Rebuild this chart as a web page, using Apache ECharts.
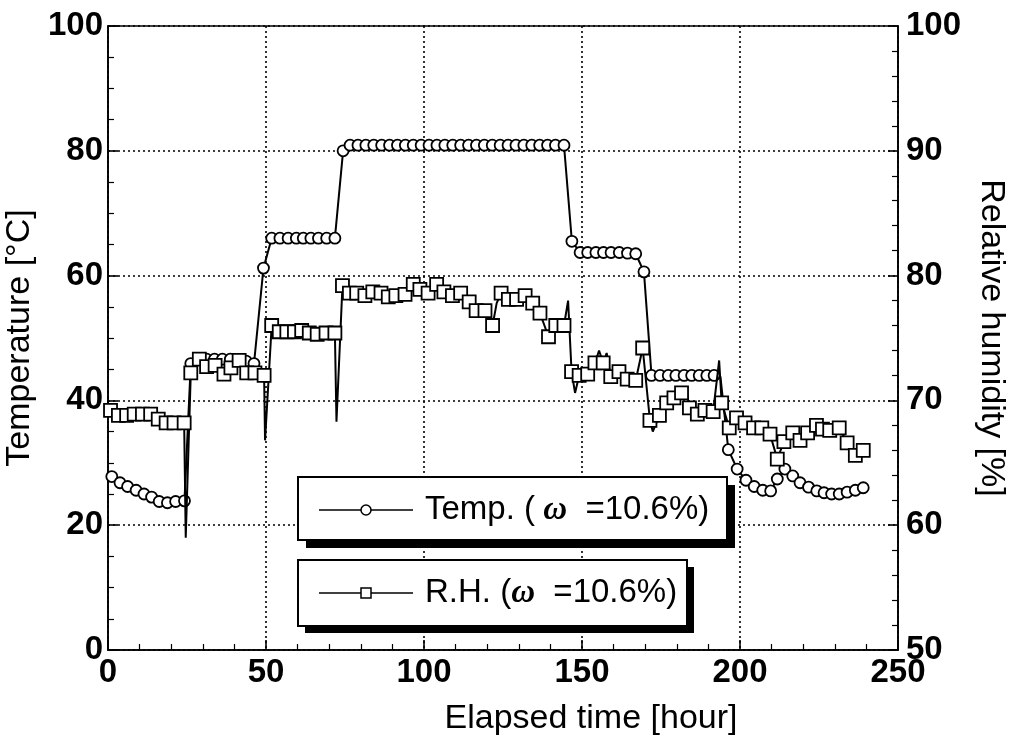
<!DOCTYPE html>
<html>
<head>
<meta charset="utf-8">
<script src="https://cdn.jsdelivr.net/npm/echarts@6/dist/echarts.min.js"></script>
<style>
html,body{margin:0;padding:0;background:#fff;}
#c{width:1015px;height:737px;}
</style>
</head>
<body>
<div id="c"></div>
<script>
// ---- Temperature (left axis, °C) : marker points ----
var tempTime = [1.2,3.8,6.2,8.9,11.4,13.8,16.2,18.8,21.4,24.2,
  26.2,28.7,31.2,33.7,36.2,38.7,41.2,43.7,46.2,
  49.2,
  51.8,54.4,57.0,59.6,61.8,64.2,66.6,69.2,71.8,
  74.4,
  76.6,79.1,81.6,84.1,86.6,89.1,91.6,94.1,96.6,99.1,101.6,104.1,106.6,109.1,111.6,114.1,116.6,119.1,121.6,124.1,126.6,129.1,131.6,134.1,136.6,139.1,141.6,144.3,
  146.8,
  149.4,151.8,154.4,156.8,159.2,161.8,164.4,167.0,
  169.6,
  172.0,174.7,177.3,179.7,182.3,184.7,187.1,189.5,191.8,
  196.3,199.1,201.9,204.5,207.2,209.7,211.8,214.2,216.7,219.0,221.7,224.3,226.6,229.0,231.4,233.9,236.5,239.0];
var tempValue = [27.8,26.8,26.2,25.6,25.0,24.5,23.8,23.6,23.8,23.9,
  45.9,46.6,46.6,46.6,46.6,46.6,46.5,46.3,45.9,
  61.2,
  66.0,66.0,66.0,66.0,66.0,66.0,66.0,66.0,66.0,
  80.0,
  80.9,80.9,80.9,80.9,80.9,80.9,80.9,80.9,80.9,80.9,80.9,80.9,80.9,80.9,80.9,80.9,80.9,80.9,80.9,80.9,80.9,80.9,80.9,80.9,80.9,80.9,80.9,80.9,
  65.5,
  63.7,63.7,63.7,63.7,63.7,63.7,63.6,63.5,
  60.6,
  44.0,44.0,44.0,44.0,44.0,44.0,44.0,44.0,44.0,
  32.1,29.0,27.2,26.2,25.6,25.5,27.4,29.0,27.9,26.8,26.1,25.5,25.2,25.0,25.0,25.3,25.6,26.0];
// line-only (unmarked) temperature readings
var tempLineTime = [193.8];
var tempLineValue = [43.8];

// ---- Relative humidity (right axis, %) : marker points ----
var rhTime = [0.8,3.3,5.9,8.3,10.9,13.5,15.9,18.4,20.9,24.1,
  26.2,28.9,31.2,33.9,36.7,38.9,41.5,43.9,46.5,49.4,
  51.8,54.2,56.6,59.0,61.3,63.7,66.2,69.0,71.8,
  74.2,76.4,78.7,81.3,83.8,86.4,88.7,91.1,94.0,96.6,98.7,101.3,104.0,106.3,109.0,111.6,114.3,116.5,119.3,121.7,124.4,126.7,129.3,132.0,134.4,136.7,139.4,141.7,144.3,
  146.7,149.1,151.8,154.1,156.7,159.1,161.7,164.3,167.0,169.2,
  171.5,174.5,176.8,179.1,181.5,184.0,186.5,188.9,191.5,194.2,
  196.6,198.9,201.6,204.3,206.9,209.5,211.8,213.9,216.7,219.0,221.4,224.2,226.1,228.4,231.4,233.9,236.5,239.0];
var rhValue = [69.2,68.8,68.8,68.9,68.9,68.9,68.5,68.2,68.2,68.2,
  72.2,73.3,72.7,72.8,72.1,72.6,73.2,72.2,72.2,72.0,
  76.0,75.5,75.5,75.5,75.6,75.4,75.3,75.4,75.4,
  79.2,78.6,78.6,78.4,78.7,78.6,78.3,78.4,78.5,79.3,78.9,78.6,79.3,78.7,78.4,78.6,77.9,77.2,77.2,76.0,78.6,78.1,78.1,78.4,77.8,77.0,75.1,76.0,76.0,
  72.3,72.0,72.1,73.0,73.0,71.9,72.3,71.7,71.6,74.2,
  68.4,68.8,69.8,70.2,70.6,69.4,68.9,69.2,69.1,69.8,
  67.8,68.6,68.2,67.8,67.8,67.3,65.3,66.7,67.4,66.8,67.4,68.0,67.7,67.6,67.8,66.6,65.6,66.0];
// line-only (unmarked) RH readings: short spikes between markers
var rhLineTime = [24.6,49.7,72.3,123.0,145.6,147.8,155.4,157.8,172.4,183.0,193.4];
var rhLineValue = [59.0,66.8,68.3,77.8,78.0,70.6,74.0,73.8,67.5,70.9,73.2];

// axis ticks
var xTicks = {min:0, max:250, interval:50};
var tTicks = {min:0, max:100, interval:20};
var hTicks = {min:50, max:100, interval:10};

function merge(t, v, lt, lv){
  var arr = [];
  for (var i=0;i<t.length;i++) arr.push({value:[t[i], v[i]]});
  for (var j=0;j<lt.length;j++) arr.push({value:[lt[j], lv[j]], symbol:'none'});
  arr.sort(function(a,b){return a.value[0]-b.value[0];});
  return arr;
}

var FONT = 'Liberation Sans, Arial, Helvetica, sans-serif';
var chart = echarts.init(document.getElementById('c'), null, {renderer:'canvas'});

var axisLine = {show:true, lineStyle:{color:'#000', width:1.6}};
var tick = {show:true, inside:true, length:10, lineStyle:{color:'#000', width:1.6}};
var dotted = {show:true, lineStyle:{color:'#000', width:1.6, type:[2,3]}};
var tickLabel = {color:'#000', fontSize:33, fontWeight:'bold', fontFamily:FONT};

var option = {
  animation:false,
  backgroundColor:'#fff',
  grid:{left:108, right:117, top:26, bottom:87, containLabel:false, outerBoundsMode:'none',
        show:true, borderColor:'#000', borderWidth:1.6, backgroundColor:'transparent'},
  xAxis:{
    type:'value', min:xTicks.min, max:xTicks.max, interval:xTicks.interval,
    axisLine:axisLine, axisTick:tick,
    minorTick:{show:true, splitNumber:5, length:6, lineStyle:{color:'#000', width:1.2}},
    splitLine:dotted,
    axisLabel:Object.assign({margin:6}, tickLabel),
    name:'Elapsed time [hour]', nameLocation:'middle', nameGap:52,
    nameTextStyle:{color:'#000', fontSize:34, fontFamily:FONT, padding:[0,0,0,176]}
  },
  yAxis:[{
    type:'value', position:'left', min:tTicks.min, max:tTicks.max, interval:tTicks.interval,
    axisLine:axisLine, axisTick:tick,
    minorTick:{show:true, splitNumber:4, length:6, lineStyle:{color:'#000', width:1.2}},
    splitLine:dotted,
    axisLabel:Object.assign({margin:5}, tickLabel),
    name:'Temperature [°C]', nameLocation:'middle', nameGap:62, nameRotate:90,
    nameTextStyle:{color:'#000', fontSize:34, fontFamily:FONT}
  },{
    type:'value', position:'right', min:hTicks.min, max:hTicks.max, interval:hTicks.interval,
    axisLine:axisLine, axisTick:tick,
    minorTick:{show:true, splitNumber:5, length:6, lineStyle:{color:'#000', width:1.2}},
    splitLine:{show:false},
    axisLabel:Object.assign({margin:8}, tickLabel),
    name:'Relative humidity [%]', nameLocation:'middle', nameGap:76, nameRotate:-90,
    nameTextStyle:{color:'#000', fontSize:34, fontFamily:FONT}
  }],
  series:[{
    name:'Temp.', type:'line', yAxisIndex:0,
    data: merge(tempTime, tempValue, tempLineTime, tempLineValue),
    symbol:'circle', symbolSize:11, showAllSymbol:true,
    lineStyle:{color:'#000', width:2},
    itemStyle:{color:'#fff', borderColor:'#000', borderWidth:1.8},
    z:3
  },{
    name:'R.H.', type:'line', yAxisIndex:1,
    data: merge(rhTime, rhValue, rhLineTime, rhLineValue),
    symbol:'rect', symbolSize:13, showAllSymbol:true,
    lineStyle:{color:'#000', width:2},
    itemStyle:{color:'#fff', borderColor:'#000', borderWidth:1.8},
    z:4
  }],
  graphic:[
    // legend box 1
    {type:'rect', shape:{x:306, y:485, width:429, height:63}, style:{fill:'#000'}, z:100},
    {type:'rect', shape:{x:298, y:477, width:429, height:63}, style:{fill:'#fff', stroke:'#000', lineWidth:2}, z:101},
    {type:'line', shape:{x1:319, y1:510, x2:413, y2:510}, style:{stroke:'#000', lineWidth:1.5}, z:102},
    {type:'circle', shape:{cx:366, cy:510, r:5}, style:{fill:'#fff', stroke:'#000', lineWidth:1.5}, z:103},
    {type:'text', x:425, y:510, z:103, style:{
      text:'{a|Temp. (}{w| ω}{a|  =10.6%)}', verticalAlign:'middle', align:'left',
      rich:{a:{fontSize:33, fontFamily:FONT, fill:'#000'}, w:{fontSize:33, fontFamily:'Liberation Serif, serif', fontStyle:'italic', fontWeight:'bold', fill:'#000'}}
    }},
    // legend box 2
    {type:'rect', shape:{x:305, y:567, width:389, height:66}, style:{fill:'#000'}, z:100},
    {type:'rect', shape:{x:298, y:560, width:389, height:66}, style:{fill:'#fff', stroke:'#000', lineWidth:2}, z:101},
    {type:'line', shape:{x1:319, y1:593, x2:413, y2:593}, style:{stroke:'#000', lineWidth:1.5}, z:102},
    {type:'rect', shape:{x:361, y:588, width:10, height:10}, style:{fill:'#fff', stroke:'#000', lineWidth:1.5}, z:103},
    {type:'text', x:425, y:593, z:103, style:{
      text:'{a|R.H. (}{w|ω}{a|  =10.6%)}', verticalAlign:'middle', align:'left',
      rich:{a:{fontSize:33, fontFamily:FONT, fill:'#000'}, w:{fontSize:33, fontFamily:'Liberation Serif, serif', fontStyle:'italic', fontWeight:'bold', fill:'#000'}}
    }}
  ]
};
chart.setOption(option);
</script>
</body>
</html>
